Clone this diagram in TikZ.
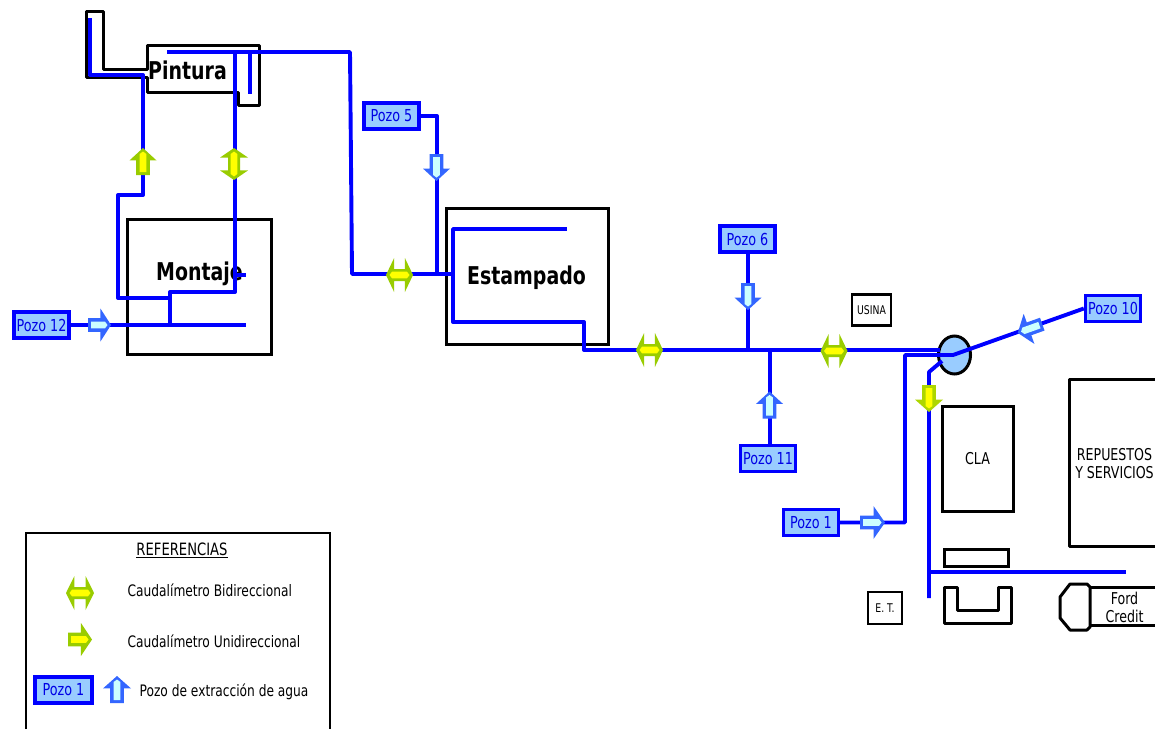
\documentclass[tikz,border=0pt]{standalone}
\usepackage{fontspec}
\usetikzlibrary{shapes.geometric}
\setmainfont[FakeStretch=0.86]{DejaVu Sans Condensed}
\definecolor{pipe}{HTML}{0000FF}
\definecolor{wellfill}{HTML}{99CCFF}
\definecolor{metergreen}{HTML}{99CC00}
\definecolor{meteryellow}{HTML}{FFFF00}
\definecolor{arrowblue}{HTML}{3366FF}
\definecolor{arrowcyan}{HTML}{CCFFFF}
\tikzset{
  pipeline/.style={draw=pipe,line width=3.9pt,line join=round},
  wall/.style={draw=black,line width=3pt,line join=round},
  wellbox/.style={draw=pipe,fill=wellfill,line width=3.4pt,minimum width=#1,minimum height=26pt,inner sep=0pt,text=pipe!90!black,font=\fontsize{16.5}{16.5}\selectfont},
  wellbox/.default=55pt,
  plantname/.style={font=\fontsize{24.5}{24.5}\selectfont\bfseries,text=black,inner sep=0pt},
  smalllabel/.style={font=\fontsize{16.3}{18}\selectfont,text=black,inner sep=0pt,align=center},
  tinylabel/.style={font=\fontsize{12}{12}\selectfont,text=black,inner sep=0pt},
  legendtext/.style={font=\fontsize{15.8}{15.8}\selectfont,text=black,inner sep=0pt,anchor=west}
}
% one-way arrow: centre x,y; angle; length; width; border colour; fill colour
\newcommand{\onewaymark}[7]{%
  \begin{scope}[shift={(#1,#2)},rotate=#3]
    \pgfmathsetmacro{\hl}{#4/2}\pgfmathsetmacro{\hw}{#5/2}\pgfmathsetmacro{\hb}{\hl-#4*0.46}
    \fill[#6] (-\hl,-6.8) -- (\hb,-6.8) -- (\hb,-\hw) -- (\hl,0) -- (\hb,\hw) -- (\hb,6.8) -- (-\hl,6.8) -- cycle;
    \fill[#7] (-\hl+3,-3.4) -- (\hl-6,-3.4) -- (\hl-3.5,0) -- (\hl-6,3.4) -- (-\hl+3,3.4) -- cycle;
  \end{scope}}
% two-way meter
\newcommand{\twowaymark}[5]{%
  \begin{scope}[shift={(#1,#2)},rotate=#3]
    \pgfmathsetmacro{\hl}{#4/2}\pgfmathsetmacro{\hw}{#5/2}\pgfmathsetmacro{\hb}{\hl-#4*0.3}
    \fill[metergreen] (-\hl,0) -- (-\hb,-\hw) -- (-\hb,-6) -- (\hb,-6) -- (\hb,-\hw) -- (\hl,0) -- (\hb,\hw) -- (\hb,6) -- (-\hb,6) -- (-\hb,\hw) -- cycle;
    \fill[meteryellow] (-\hl+3.5,0) -- (-\hl+6,-3.3) -- (\hl-6,-3.3) -- (\hl-3.5,0) -- (\hl-6,3.3) -- (-\hl+6,3.3) -- cycle;
  \end{scope}}
\begin{document}
\begin{tikzpicture}[x=1pt,y=-1pt]
\useasboundingbox (0,0) rectangle (1155,729);
\fill[white] (0,0) rectangle (1155,729);

% --- buildings ---
\draw[wall] (86,11) -- (103,11) -- (103,69) -- (147,69) -- (147,45) -- (259,45) -- (259,105) -- (238,105) -- (238,92) -- (147,92) -- (147,77) -- (86,77) -- cycle;
\node[draw=black,line width=3pt,minimum width=144pt,minimum height=135pt,inner sep=0pt] (montajebox) at (199,286.5) {};
\node[draw=black,line width=3pt,minimum width=162pt,minimum height=136pt,inner sep=0pt] (estampadobox) at (527,276) {};
\node[plantname] (montaje) at (199.5,274) {Montaje};
\node[plantname] (estampado) at (526.5,278) {Estampado};
\node[draw=black,line width=3pt,minimum width=71pt,minimum height=105pt,inner sep=0pt,smalllabel] (cla) at (977.5,459) {CLA};
\draw[wall] (1155,379) -- (1069,379) -- (1069,546) -- (1155,546);
\node[smalllabel] (repuestos) at (1114.5,464) {REPUESTOS\\Y SERVICIOS};
\node[draw=black,line width=3pt,minimum width=64pt,minimum height=17pt,inner sep=0pt] (annex) at (976,557.5) {};
\draw[wall] (944,587) -- (957,587) -- (957,610) -- (998,610) -- (998,587) -- (1011,587) -- (1011,623) -- (944,623) -- cycle;
\draw[wall] (1155,587) -- (1090,587);
\draw[wall] (1155,625) -- (1090,625);
\draw[wall] (1070,584) -- (1087,584) -- (1090,587) -- (1090,627) -- (1087,630) -- (1070,630) -- (1060,618) -- (1060,597) -- cycle;
\node[smalllabel] (ford) at (1124.5,607.5) {Ford\\Credit};
\node[draw=black,line width=2.8pt,minimum width=34pt,minimum height=32pt,inner sep=0pt,tinylabel] (et) at (885,608) {E. T.};
\node[draw=black,line width=2.8pt,minimum width=39pt,minimum height=31pt,inner sep=0pt,tinylabel] (usina) at (871.5,310) {USINA};
\node[draw=black,fill=wellfill,line width=3pt,ellipse,minimum width=32pt,minimum height=38pt,inner sep=0pt] (tank) at (954.5,355) {};

% --- wells ---
\node[wellbox] (pozo12) at (41.5,325) {Pozo 12};
\node[wellbox] (pozo5) at (391.5,116) {Pozo 5};
\node[wellbox] (pozo6) at (747.5,239) {Pozo 6};
\node[wellbox] (pozo11) at (768,458.5) {Pozo 11};
\node[wellbox] (pozo1) at (811,522.5) {Pozo 1};
\node[wellbox] (pozo10) at (1113,308.5) {Pozo 10};

% --- junctions ---
\coordinate (j1) at (437,274);
\coordinate (j2) at (352,274);
\coordinate (j3) at (453,274);
\coordinate (j4) at (748,350);
\coordinate (j5) at (770,350);
\coordinate (j6) at (940,350);
\coordinate (j7) at (953,355);
\coordinate (j8) at (170,325);
\coordinate (j9) at (235,292);
\coordinate (j10) at (929,572);

% --- pipes ---
\draw[pipeline] (90,18) -- (90,75) -- (143,75) -- (143,195) -- (118,195) -- (118,298) -- (170,298);
\draw[pipeline] (pozo12.east) -- (j8) -- (246,325);
\draw[pipeline] (j8) -- (170,292) -- (j9) -- (235,52);
\draw[pipeline] (235,275) -- (246,275);
\draw[pipeline] (167,52) -- (350,52) -- (j2) -- (j3);
\draw[pipeline] (250,52) -- (250,94);
\draw[pipeline] (pozo5.east) -- (437,116) -- (j1);
\draw[pipeline] (567,229) -- (453,229) -- (453,322) -- (584,322) -- (584,350) -- (j6);
\draw[pipeline] (j4 |- pozo6.south) -- (j4);
\draw[pipeline] (j5 |- pozo11.north) -- (j5);
\draw[pipeline] (pozo1.east) -- (905,522.5) -- (905,355) -- (j7) -- (pozo10.west);
\draw[pipeline] (929,598) -- (929,372) -- (942,361);
\draw[pipeline] (j10) -- (1126,572);

\node[plantname] (pintura) at (187.5,70) {Pintura};

% --- meters ---
\onewaymark{143}{161.5}{90}{27}{27}{metergreen}{meteryellow}
\twowaymark{234}{164}{90}{32}{28}
\twowaymark{399.5}{275}{0}{27}{34}
\twowaymark{649.5}{350}{0}{27}{34}
\twowaymark{834}{351}{0}{27}{34}
\onewaymark{929}{398.5}{-90}{27}{28}{metergreen!80!yellow}{meteryellow}
\onewaymark{436.5}{167.5}{-90}{27}{27}{arrowblue}{arrowcyan}
\onewaymark{748}{296.5}{-90}{27}{27}{arrowblue}{arrowcyan}
\onewaymark{769.5}{405}{90}{27}{27}{arrowblue}{arrowcyan}
\onewaymark{872.5}{522.5}{0}{25}{33}{arrowblue}{arrowcyan}
\onewaymark{99.5}{325}{0}{23}{33}{arrowblue}{arrowcyan}
\onewaymark{1030}{328.5}{199.6}{26}{32}{arrowblue}{arrowcyan}

% --- legend ---
\draw[black,line width=1.8pt] (26,729) -- (26,533) -- (330,533) -- (330,729);
\node[smalllabel,font=\fontsize{17}{17}\selectfont] (reftitle) at (182,550.5) {\underline{REFERENCIAS}};
\twowaymark{80}{593}{0}{28}{34}
\node[legendtext] (refbi) at (127.5,590.5) {Caudalímetro Bidireccional};
\onewaymark{80}{639.5}{0}{24}{33}{metergreen}{meteryellow}
\node[legendtext] (refuni) at (127.5,641.5) {Caudalímetro Unidireccional};
\node[wellbox=57pt] (refpozo) at (63.5,690) {Pozo 1};
\onewaymark{117}{689.5}{90}{27}{28}{arrowblue}{arrowcyan}
\node[legendtext] (refwell) at (139.5,691.5) {Pozo de extracción de agua};
\end{tikzpicture}
\end{document}
